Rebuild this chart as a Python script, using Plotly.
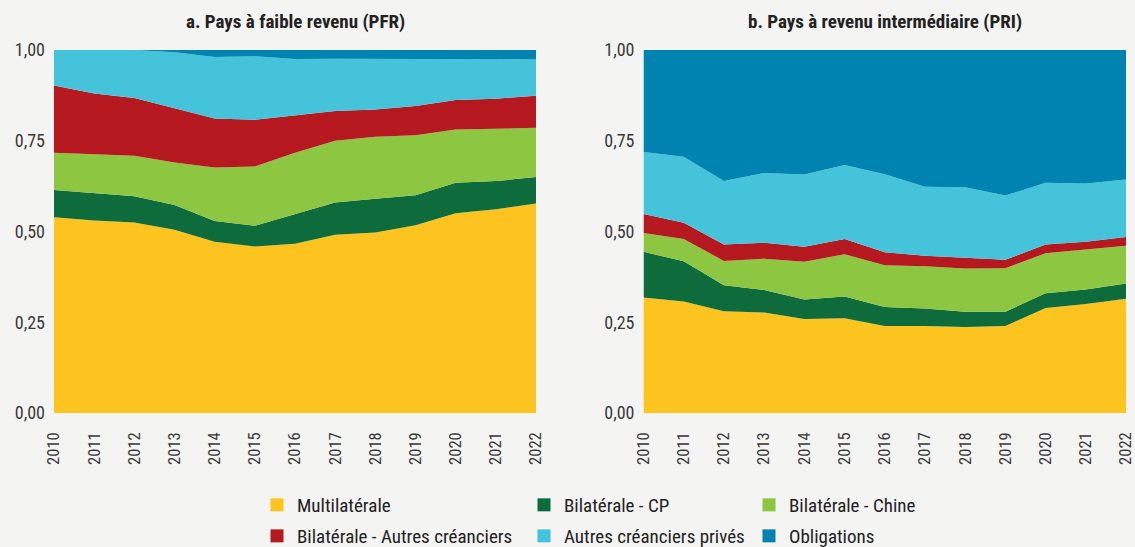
import plotly.graph_objects as go

years = list(range(2010, 2023))
series_names = ["Multilatérale", "Bilatérale - CP", "Bilatérale - Chine",
                "Bilatérale - Autres créanciers", "Autres créanciers privés", "Obligations"]
colors = ["#FDC41F", "#0E6B3C", "#8DC641", "#B5191F", "#45C3DB", "#0083B0"]

# a. Pays à faible revenu (PFR) - shares
pfr_multilaterale = [0.539, 0.530, 0.525, 0.505, 0.472, 0.459, 0.466, 0.491, 0.497, 0.517, 0.550, 0.561, 0.577]
pfr_cp = [0.075, 0.076, 0.072, 0.068, 0.057, 0.057, 0.081, 0.089, 0.093, 0.083, 0.084, 0.078, 0.073]
pfr_chine = [0.103, 0.106, 0.112, 0.117, 0.147, 0.163, 0.170, 0.170, 0.171, 0.165, 0.147, 0.144, 0.136]
pfr_autres_bil = [0.185, 0.168, 0.159, 0.149, 0.135, 0.129, 0.103, 0.082, 0.075, 0.081, 0.081, 0.083, 0.088]
pfr_prives = [0.098, 0.120, 0.132, 0.155, 0.170, 0.175, 0.155, 0.144, 0.140, 0.130, 0.114, 0.108, 0.100]
pfr_obligations = [0.000, 0.000, 0.000, 0.006, 0.019, 0.017, 0.025, 0.024, 0.024, 0.024, 0.024, 0.026, 0.026]

# b. Pays à revenu intermédiaire (PRI) - shares
pri_multilaterale = [0.318, 0.307, 0.280, 0.277, 0.259, 0.261, 0.240, 0.240, 0.237, 0.240, 0.289, 0.300, 0.315]
pri_cp = [0.126, 0.111, 0.072, 0.062, 0.054, 0.060, 0.052, 0.048, 0.042, 0.039, 0.041, 0.040, 0.042]
pri_chine = [0.052, 0.061, 0.067, 0.086, 0.104, 0.116, 0.115, 0.116, 0.119, 0.120, 0.110, 0.110, 0.104]
pri_autres_bil = [0.052, 0.045, 0.045, 0.044, 0.041, 0.042, 0.036, 0.029, 0.030, 0.023, 0.024, 0.022, 0.024]
pri_prives = [0.171, 0.182, 0.175, 0.192, 0.199, 0.204, 0.215, 0.190, 0.194, 0.177, 0.170, 0.160, 0.158]
pri_obligations = [0.281, 0.294, 0.361, 0.339, 0.343, 0.317, 0.342, 0.377, 0.378, 0.401, 0.366, 0.368, 0.357]

pfr = [pfr_multilaterale, pfr_cp, pfr_chine, pfr_autres_bil, pfr_prives, pfr_obligations]
pri = [pri_multilaterale, pri_cp, pri_chine, pri_autres_bil, pri_prives, pri_obligations]

titles = ["a. Pays à faible revenu (PFR)", "b. Pays à revenu intermédiaire (PRI)"]
y_ticks = [0, 0.25, 0.5, 0.75, 1.0]

FONT = "Liberation Sans Narrow, Roboto Condensed, Arial Narrow, sans-serif"
BG = "#F4F4F2"
W, H = 1135, 547

fig = go.Figure()
for data, xa, ya, grp in [(pfr, "x", "y", "a"), (pri, "x2", "y2", "b")]:
    for name, vals, col in zip(series_names, data, colors):
        fig.add_trace(go.Scatter(
            x=years, y=vals, name=name, stackgroup=grp, mode="lines",
            line=dict(width=0, color=col), fillcolor=col,
            xaxis=xa, yaxis=ya, showlegend=False, hoverinfo="x+y+name"))

# legend entries: one small legend per entry, laid out 3 columns x 2 rows
legend_cols_px = [257, 524, 749]
legend_rows_px = [505, 536]
legend_layout = {}
for i, (name, col) in enumerate(zip(series_names, colors)):
    key = "legend" if i == 0 else "legend%d" % (i + 1)
    fig.add_trace(go.Scatter(
        x=[None], y=[None], mode="markers", name=name,
        marker=dict(symbol="square", size=13, color=col),
        xaxis="x", yaxis="y", showlegend=True, legend=key))
    legend_layout[key] = dict(
        x=legend_cols_px[i % 3] / W, xanchor="left",
        y=1 - legend_rows_px[i // 3] / H, yanchor="middle",
        itemwidth=30, bgcolor="rgba(0,0,0,0)", borderwidth=0,
        font=dict(family=FONT, size=19, color="#222222"))

axis_common_x = dict(range=[2010, 2022], tickmode="array", tickvals=years,
                     ticktext=[str(y) for y in years], tickangle=-90,
                     showgrid=False, zeroline=False, showline=False, ticks="",
                     automargin=False, ticklabelstandoff=15,
                     ticklabeloverflow="allow",
                     tickfont=dict(family=FONT, size=16.5, color="#3a3a3a"))
axis_common_y = dict(range=[0, 1], tickmode="array", tickvals=y_ticks,
                     tickformat=".2f", showgrid=False, zeroline=False,
                     showline=False, ticks="", automargin=False,
                     ticklabelstandoff=8, ticklabeloverflow="allow",
                     tickfont=dict(family=FONT, size=18, color="#3a3a3a"))

top_px, bot_px = 50, 413
ydom = [1 - bot_px / H, 1 - top_px / H]

fig.update_layout(
    width=W, height=H,
    margin=dict(l=0, r=0, t=0, b=0, autoexpand=False),
    paper_bgcolor=BG, plot_bgcolor=BG,
    separators=",.",
    xaxis=dict(domain=[54 / W, 536 / W], anchor="y", **axis_common_x),
    yaxis=dict(domain=ydom, anchor="x", **axis_common_y),
    xaxis2=dict(domain=[643.5 / W, 1126 / W], anchor="y2", **axis_common_x),
    yaxis2=dict(domain=ydom, anchor="x2", **axis_common_y),
    showlegend=True,
    annotations=[
        dict(text="<b>" + titles[0] + "</b>", x=(54 + 536) / 2 / W, y=1 - 22 / H,
             xref="paper", yref="paper", showarrow=False, xanchor="center", yanchor="middle",
             font=dict(family=FONT, size=19, color="#222222")),
        dict(text="<b>" + titles[1] + "</b>", x=(643.5 + 1127) / 2 / W, y=1 - 22 / H,
             xref="paper", yref="paper", showarrow=False, xanchor="center", yanchor="middle",
             font=dict(family=FONT, size=19, color="#222222")),
    ],
    **legend_layout,
)

# remove the default page margin so the figure sits at the window origin
post = ("document.body.style.margin='0';"
        "document.body.style.padding='0';"
        "document.body.style.overflow='hidden';"
        "document.body.style.background='%s';" % BG)
fig.write_html("out.html", post_script=post, config={"displayModeBar": False})
